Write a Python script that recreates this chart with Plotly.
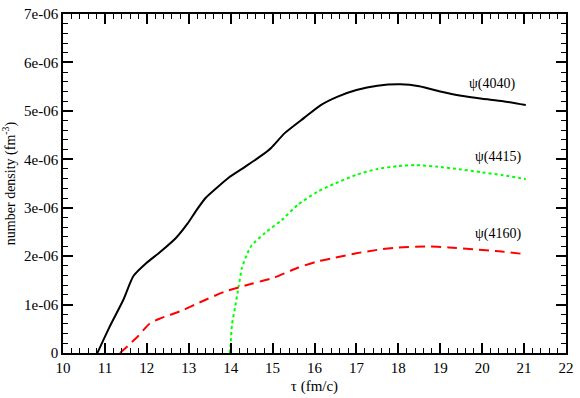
import numpy as np
from plotly import graph_objects as go

# tau (fm/c) and number density in units of 1e-06 fm^-3
tau_4040 = [10.82, 11.1, 11.44, 11.68, 11.99, 12.31, 12.70, 12.97, 13.17, 13.40, 13.64, 13.95,
            14.35, 14.74, 14.97, 15.29, 15.76, 16.15, 16.54, 17.0, 17.5, 18.05, 18.5, 19.0,
            19.5, 20.0, 20.5, 21.04]
dens_4040 = [0.0, 0.52, 1.10, 1.59, 1.86, 2.08, 2.38, 2.67, 2.93, 3.20, 3.39, 3.62,
             3.85, 4.08, 4.24, 4.54, 4.86, 5.12, 5.29, 5.43, 5.52, 5.55, 5.51, 5.40,
             5.31, 5.25, 5.20, 5.12]

tau_4415 = [13.98, 14.0, 14.03, 14.11, 14.19, 14.27, 14.38, 14.5, 14.82, 15.21, 15.6, 16.07,
            16.46, 17.0, 17.5, 18.0, 18.4, 18.9, 19.5, 20.0, 20.5, 21.04]
dens_4415 = [0.0, 0.19, 0.58, 0.97, 1.37, 1.76, 2.02, 2.22, 2.48, 2.74, 3.06, 3.33,
             3.49, 3.68, 3.80, 3.86, 3.88, 3.85, 3.79, 3.73, 3.67, 3.59]

tau_4160 = [11.36, 11.76, 12.07, 12.31, 12.85, 13.25, 13.87, 14.5, 15.05, 15.6, 16.07, 16.5,
            17.0, 17.5, 18.0, 18.66, 19.2, 19.8, 20.4, 21.04]
dens_4160 = [0.0, 0.32, 0.61, 0.71, 0.88, 1.04, 1.27, 1.43, 1.56, 1.76, 1.89, 1.97,
             2.06, 2.13, 2.18, 2.20, 2.18, 2.14, 2.10, 2.04]

labels = ['ψ(4040)', 'ψ(4415)', 'ψ(4160)']
label_x = [20.24, 20.38, 20.38]
label_y = [5.55, 4.04, 2.45]

y_ticks = [0, 1, 2, 3, 4, 5, 6, 7]
y_ticktext = ['0', '1e-06', '2e-06', '3e-06', '4e-06', '5e-06', '6e-06', '7e-06']

FONT = 'Liberation Serif'
X_RANGE = [10, 22]
Y_RANGE = [0, 7]

fig = go.Figure()
# black curve on the main axes (frame, labels, titles)
fig.add_trace(go.Scatter(x=tau_4040, y=dens_4040, mode='lines',
                         line=dict(color='black', width=2, shape='spline', smoothing=0.6)))
# the other two on the overlay axes (x2/y2), which carry the tick marks
fig.add_trace(go.Scatter(x=tau_4415, y=dens_4415, mode='lines', xaxis='x2', yaxis='y2',
                         line=dict(color='#00ff00', width=2, dash='dot', shape='spline', smoothing=0.6)))
fig.add_trace(go.Scatter(x=tau_4160, y=dens_4160, mode='lines', xaxis='x2', yaxis='y2',
                         line=dict(color='#ff0000', width=2, dash='10px,6px', shape='spline', smoothing=0.6)))

for t, xx, yy in zip(labels, label_x, label_y):
    fig.add_annotation(x=xx, y=yy, text=t, showarrow=False,
                       font=dict(family=FONT, size=14, color='black'))

fig.update_layout(
    width=580, height=398, showlegend=False,
    plot_bgcolor='white', paper_bgcolor='white',
    margin=dict(l=62, r=8, t=6, b=35),
    xaxis=dict(range=X_RANGE, tickmode='linear', tick0=10, dtick=1, showgrid=False, zeroline=False,
               showline=True, linecolor='black', linewidth=1.5, mirror=True, ticks='',
               tickfont=dict(family=FONT, size=15, color='black'),
               title=dict(text='τ (fm/c)', font=dict(family=FONT, size=15, color='black'), standoff=6)),
    yaxis=dict(range=Y_RANGE, tickmode='array', tickvals=y_ticks, ticktext=y_ticktext,
               showgrid=False, zeroline=False, ticklabeloverflow='allow',
               showline=True, linecolor='black', linewidth=1.5, mirror=True, ticks='',
               tickfont=dict(family=FONT, size=15, color='black'),
               title=dict(text='number density (fm<sup>-3</sup>)',
                          font=dict(family=FONT, size=14, color='black'), standoff=8)),
    xaxis2=dict(overlaying='x', matches='x', range=X_RANGE, side='bottom', showticklabels=False,
                showgrid=False, zeroline=False, dtick=1, tick0=10,
                ticks='inside', ticklen=10, tickcolor='black', tickwidth=1.5, mirror='allticks',
                showline=False,
                minor=dict(ticks='inside', dtick=0.2, ticklen=5, tickcolor='black', tickwidth=1)),
    yaxis2=dict(overlaying='y', matches='y', range=Y_RANGE, side='left', showticklabels=False,
                showgrid=False, zeroline=False,
                ticks='inside', ticklen=10, tickcolor='black', tickwidth=1.5, mirror='allticks',
                showline=False,
                minor=dict(ticks='inside', dtick=0.2, ticklen=5, tickcolor='black', tickwidth=1)),
)

fig.write_html("out.html", config={'displayModeBar': False},
               post_script="document.body.style.margin='0';")
